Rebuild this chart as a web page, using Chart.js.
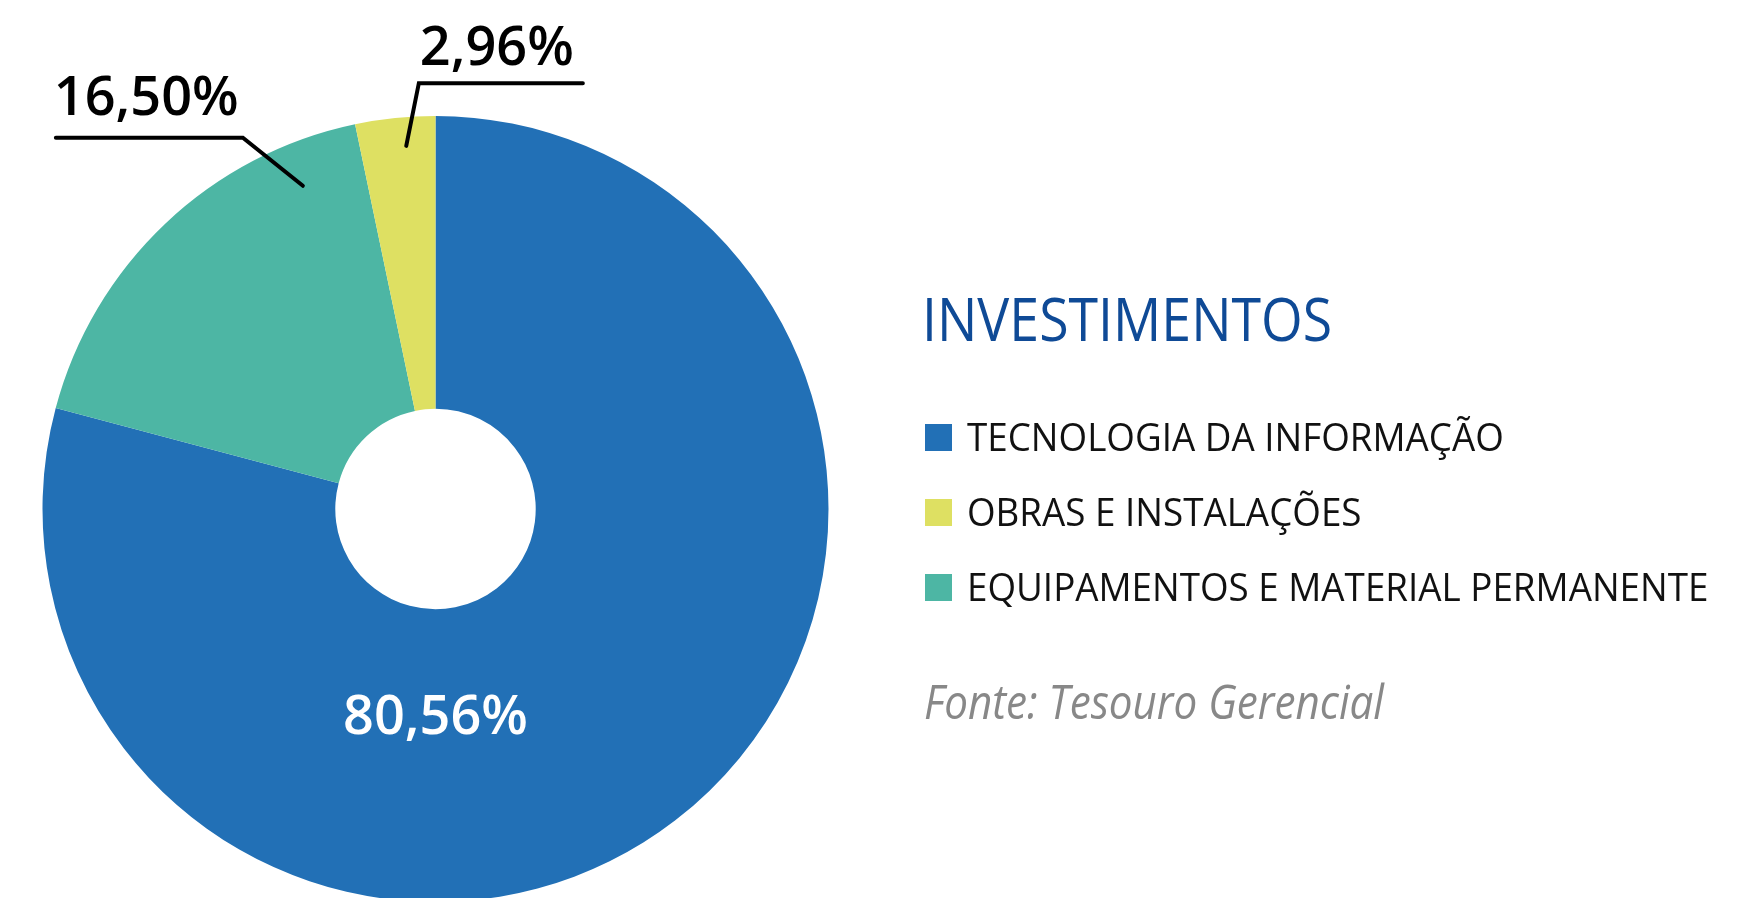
<!DOCTYPE html>
<html>
<head>
<meta charset="utf-8">
<script src="https://cdn.jsdelivr.net/npm/chart.js@4.4.0/dist/chart.umd.min.js"></script>
<style>
  html, body { margin:0; padding:0; width:1751px; height:898px; overflow:hidden; background:#ffffff; font-family:"Open Sans", sans-serif; }
  #wrap { position:absolute; left:0; top:0; width:1751px; height:1000px; }
  #title { position:absolute; left:922px; top:288px; font-size:60px; line-height:60px; color:#0f4a96; white-space:nowrap; transform:scaleX(0.894); transform-origin:0 0; }
  .item { position:absolute; left:925px; height:40px; white-space:nowrap; }
  .sq { position:absolute; left:0; width:27px; height:27px; }
  .txt { position:absolute; left:42px; font-size:38.4px; line-height:38.4px; color:#111; transform:scaleX(0.958); transform-origin:0 0; }
  #fonte { position:absolute; left:924px; top:678px; font-size:47px; line-height:47px; font-style:italic; color:#888888; white-space:nowrap; transform:scaleX(0.897); transform-origin:0 0; }
</style>
</head>
<body>
<div id="wrap"><canvas id="c" width="1751" height="1000"></canvas></div>
<div id="title"></div>
<div id="legend"></div>
<div id="fonte"></div>
<script>
// ---- data ----
const categories = ["TECNOLOGIA DA INFORMAÇÃO", "EQUIPAMENTOS E MATERIAL PERMANENTE", "OBRAS E INSTALAÇÕES"];
// slice sizes as drawn in the picture
const values = [79.14, 17.58, 3.28];
// percentages as printed on the picture
const valueLabels = ["80,56%", "16,50%", "2,96%"];
const colors = ["#2270b6", "#4db6a4", "#dee062"];
const legendOrder = [0, 2, 1];
const titleText = "INVESTIMENTOS";
const sourceText = "Fonte: Tesouro Gerencial";

// ---- label styles (per slice) ----
const labelStyle = [
  { inside: true, dyFrac: 0.572, color: "#ffffff" },
  { inside: false, frac: 0.834, rFrac: 0.889, elbow: [-60, -48], run: -187, textDx: -2, textDy: -22.7, color: "#000000" },
  { inside: false, frac: 0.61, rFrac: 0.927, elbow: [12.6, -62.7], run: 164, textDx: 1, textDy: -18.3, color: "#000000" }
];

document.getElementById('title').textContent = titleText;
document.getElementById('fonte').textContent = sourceText;
const legendEl = document.getElementById('legend');
const legendBaselines0 = 450.7, legendStep = 75;
legendOrder.forEach((idx, k) => {
  const it = document.createElement('div');
  it.className = 'item';
  const base = legendBaselines0 + k * legendStep;
  it.style.top = (base - 27) + 'px';
  const sq = document.createElement('div');
  sq.className = 'sq';
  sq.style.background = colors[idx];
  sq.style.top = '0px';
  const tx = document.createElement('div');
  tx.className = 'txt';
  tx.textContent = categories[idx];
  tx.style.top = (27 - 0.888 * 38.4) + 'px';
  it.appendChild(sq); it.appendChild(tx);
  legendEl.appendChild(it);
});

const labelPlugin = {
  id: 'sliceLabels',
  afterDatasetsDraw(chart) {
    const ctx = chart.ctx;
    const meta = chart.getDatasetMeta(0);
    ctx.save();
    ctx.font = '600 54px "Open Sans"';
    ctx.textBaseline = 'alphabetic';
    meta.data.forEach((arc, i) => {
      const p = arc.getProps(['x', 'y', 'startAngle', 'endAngle', 'outerRadius'], true);
      const st = labelStyle[i];
      ctx.fillStyle = st.color;
      if (st.inside) {
        ctx.textAlign = 'center';
        ctx.fillText(valueLabels[i], p.x, p.y + st.dyFrac * p.outerRadius);
        return;
      }
      const a = p.startAngle + st.frac * (p.endAngle - p.startAngle);
      const ax = p.x + Math.cos(a) * st.rFrac * p.outerRadius;
      const ay = p.y + Math.sin(a) * st.rFrac * p.outerRadius;
      const ex = ax + st.elbow[0], ey = ay + st.elbow[1];
      const hx = ex + st.run;
      ctx.strokeStyle = '#000000';
      ctx.lineWidth = 4;
      ctx.lineCap = 'round';
      ctx.lineJoin = 'miter';
      ctx.beginPath();
      ctx.moveTo(ax, ay); ctx.lineTo(ex, ey); ctx.lineTo(hx, ey);
      ctx.stroke();
      ctx.textAlign = 'left';
      const left = Math.min(ex, hx);
      ctx.fillText(valueLabels[i], left + st.textDx, ey + st.textDy);
    });
    ctx.restore();
  }
};

function draw() {
  new Chart(document.getElementById('c'), {
    type: 'doughnut',
    data: {
      labels: categories,
      datasets: [{
        data: values,
        backgroundColor: colors,
        borderWidth: 0,
        offset: 0,
        hoverOffset: 0
      }]
    },
    options: {
      responsive: false,
      animation: false,
      cutout: '25.5%',
      rotation: 0,
      layout: { padding: { left: 42, top: 116, right: 922, bottom: 98 } },
      plugins: { legend: { display: false }, tooltip: { enabled: false } },
      events: []
    },
    plugins: [labelPlugin]
  });
}
if (document.fonts && document.fonts.load) {
  Promise.all([document.fonts.load('600 54px "Open Sans"'), document.fonts.load('400 52px "Open Sans"')]).then(draw, draw);
} else { draw(); }
</script>
</body>
</html>
